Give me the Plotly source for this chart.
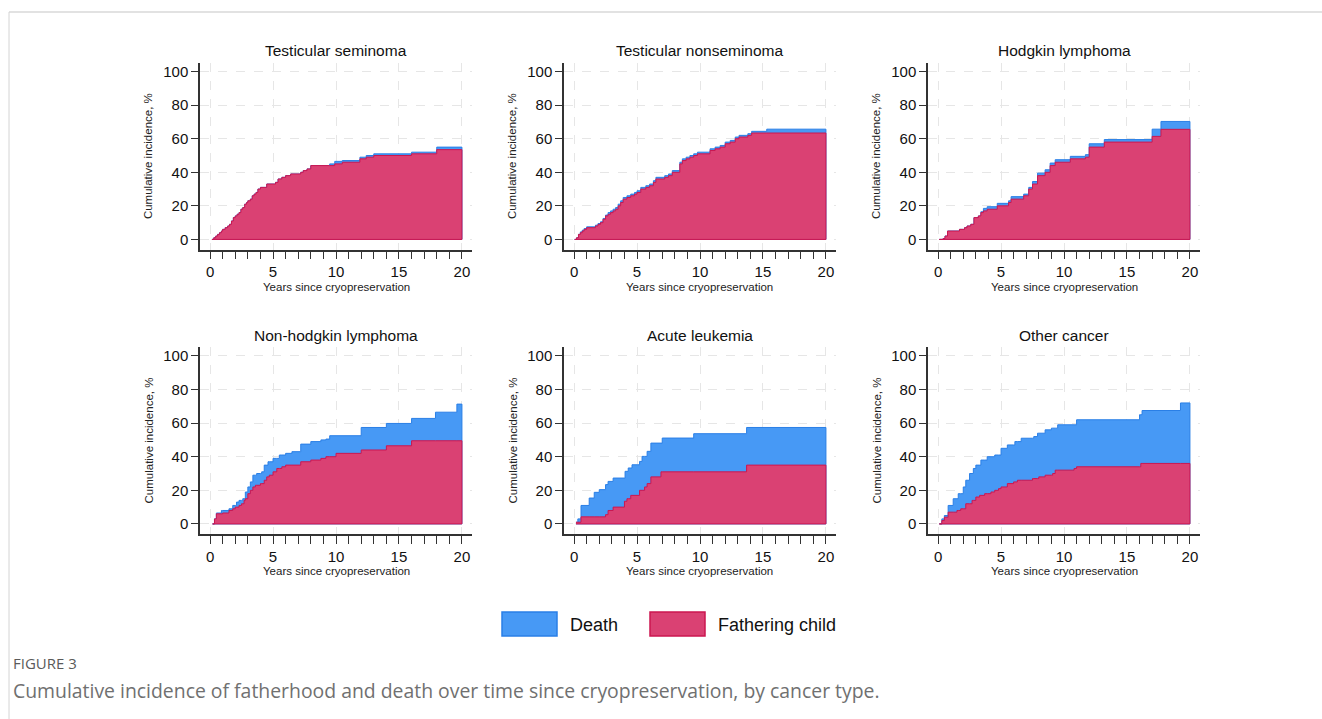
import plotly.graph_objects as go

# ---------------- data ----------------
panel_titles = ["Testicular seminoma", "Testicular nonseminoma", "Hodgkin lymphoma",
                "Non-hodgkin lymphoma", "Acute leukemia", "Other cancer"]
series_names = ["Death", "Fathering child"]
x_ticks = [0, 5, 10, 15, 20]
y_ticks = [0, 20, 40, 60, 80, 100]

seminoma_years = [0.15, 0.3, 0.45, 0.6, 0.75, 0.9, 1.0, 1.2, 1.4, 1.55, 1.7, 1.85, 2.0, 2.15, 2.3,
                  2.45, 2.6, 2.75, 2.9, 3.0, 3.2, 3.35, 3.5, 3.65, 3.8, 4.0, 4.5, 5.2, 5.4, 5.7,
                  6.0, 6.4, 7.2, 7.4, 7.7, 8.0, 9.5, 9.9, 10.5, 11.9, 12.4, 13.0, 16.0, 18.0, 20.0]
seminoma_fathering = [0, 1, 2, 3, 4, 5, 6, 7, 8, 9, 11, 13, 14, 15, 16,
                      18, 19, 21, 22, 23, 24, 26, 27, 28, 30, 31, 33, 34, 36, 37,
                      38, 39, 40, 41, 42, 44, 44, 45, 46, 48, 49, 50, 51, 53.5, 53.5]
seminoma_death = [0, 0, 0, 0, 0, 0, 0, 0, 0, 0, 0, 0, 0, 0, 0,
                  0, 0, 0, 0, 0, 0, 0, 0, 0, 0, 0, 0, 0, 0, 0,
                  0, 0, 0, 0, 0, 0, 1, 1.5, 1, 1, 1, 1, 1, 1.5, 1.5]

nonseminoma_years = [0.05, 0.2, 0.35, 0.5, 0.65, 0.8, 1.0, 1.7, 1.9, 2.1, 2.3, 2.5, 2.7, 2.9, 3.1,
                     3.3, 3.5, 3.7, 3.9, 4.2, 4.5, 4.8, 5.0, 5.3, 5.7, 6.0, 6.3, 6.5, 7.2, 7.5,
                     7.8, 8.4, 8.6, 8.9, 9.2, 9.5, 9.8, 10.8, 11.2, 11.6, 12.0, 12.4, 12.8, 13.1,
                     13.8, 14.1, 15.3, 20.0]
nonseminoma_fathering = [0, 1, 3, 4, 5, 6, 7, 8, 9, 10, 12, 14, 15, 16, 17,
                         18, 20, 22, 24, 25, 26, 27, 28, 30, 31, 32, 34, 36, 37, 38,
                         40, 45, 47, 48, 49, 50, 51, 53, 54, 55, 57, 58, 60, 61,
                         62, 63.4, 63.4, 63.4]
nonseminoma_death = [0, 0, 0, 0.5, 0.5, 0.5, 0.5, 0.5, 0.5, 0.5, 0.5, 0.5, 1, 1, 1,
                     1, 1, 1, 1, 1, 1, 1, 1, 1, 1, 1, 1, 1, 1, 1,
                     1, 1, 1, 1, 1, 1, 1, 1, 1, 1, 1, 1, 1, 1,
                     1, 1, 2.3, 2.3]

hodgkin_years = [0.1, 0.4, 0.55, 0.75, 1.7, 2.1, 2.3, 2.6, 2.85, 3.2, 3.4, 3.6, 3.9, 4.7, 5.6,
                 5.8, 6.8, 7.2, 7.5, 7.9, 8.5, 8.9, 9.3, 10.5, 11.7, 12.0, 13.2, 17.0, 17.7, 20.0]
hodgkin_fathering = [0, 0.5, 2, 5, 6, 7, 8, 9, 13, 14, 16, 17, 18, 20, 22,
                     24, 26, 30, 33, 38, 40, 44, 46, 48, 49, 55, 58, 61.4, 65.6, 65.6]
hodgkin_death = [0, 0, 0, 0, 0, 0, 0, 0, 0, 0, 0.5, 1.5, 1.5, 1.5, 1,
                 1.5, 1, 1, 1.5, 1.5, 1.5, 1.5, 1.5, 1.5, 1.5, 2, 1.5, 4.3, 4.7, 4.7]

nhl_years = [0.2, 0.35, 0.5, 0.9, 1.0, 1.5, 1.8, 2.0, 2.1, 2.3, 2.5, 2.6, 2.7, 2.8, 3.0,
             3.2, 3.4, 3.6, 3.7, 4.0, 4.1, 4.3, 4.5, 4.6, 4.7, 5.0, 5.3, 5.5, 5.7, 6.0,
             6.5, 7.2, 8.0, 8.8, 9.2, 9.5, 10.0, 12.0, 14.0, 16.0, 17.9, 19.6, 20.0]
nhl_fathering = [0, 3, 6, 6, 6.5, 8, 9, 10, 10, 11, 12, 12, 14, 15, 18,
                 20, 22, 23, 23, 24, 24, 26, 28, 28, 29, 31, 33, 33, 34, 35,
                 35, 37, 38, 39, 40, 40, 42, 44, 46.5, 49.5, 49.5, 49.5, 49.5]
nhl_death = [0, 0, 0.5, 2, 1.5, 1, 2, 1, 3, 3, 2, 3, 1, 4, 4,
             5, 7, 6, 7, 6, 7, 9, 7, 9, 8, 8, 6, 8, 7, 7,
             8, 10.5, 11, 11, 10.5, 12.5, 10.5, 13.4, 13.3, 13.3, 17, 21.8, 21.8]

leukemia_years = [0.15, 0.3, 0.55, 1.2, 1.6, 2.0, 2.5, 2.7, 3.1, 4.0, 4.05, 4.2, 4.3, 4.5, 4.6,
                  5.2, 5.4, 5.6, 5.8, 6.1, 6.9, 7.0, 9.5, 13.7, 20.0]
leukemia_fathering = [1, 1, 4.2, 4.2, 4.2, 4.2, 5.5, 8, 10, 13.5, 13.5, 15, 15, 17, 17,
                      20, 20, 22, 24, 28, 31, 31, 31, 35, 35]
leukemia_death = [0, 2, 6.8, 11.2, 14.6, 16.2, 17.9, 17.3, 17.3, 13.8, 17.8, 16.3, 18.3, 16.3, 18.2,
                  17.2, 20.2, 18.2, 19.2, 20.1, 17.1, 20.1, 22.7, 22.4, 22.4]

other_years = [0.1, 0.3, 0.5, 0.8, 1.2, 1.5, 1.6, 1.8, 2.0, 2.2, 2.5, 2.7, 2.8, 3.0, 3.3,
               3.4, 3.7, 3.9, 4.2, 4.5, 4.8, 5.0, 5.5, 6.0, 6.1, 6.3, 6.6, 7.5, 7.6, 7.9,
               8.0, 8.5, 9.0, 9.1, 9.3, 9.5, 10.8, 11.0, 15.8, 16.0, 16.1, 16.2, 19.25, 20.0]
other_fathering = [0, 2, 4, 7, 7, 8, 8, 9, 9, 12, 12, 14, 14, 16, 17,
                   17, 18, 18, 19, 20, 21, 22, 24, 25, 25, 26, 26, 27, 27, 27,
                   28, 29, 29, 30, 32, 32, 33, 34, 34, 34, 36, 36, 36, 36]
other_death = [0, 1, 1, 4, 8, 7, 10, 9, 13, 14, 18, 16, 19, 19, 18,
               21, 20, 22, 21, 21, 20, 23, 23, 22, 24, 23, 25, 24, 25, 27,
               26, 27, 28, 27, 25, 27, 26, 28, 28, 31, 29, 31.5, 36, 36]

panels = [
    (seminoma_years, seminoma_fathering, seminoma_death),
    (nonseminoma_years, nonseminoma_fathering, nonseminoma_death),
    (hodgkin_years, hodgkin_fathering, hodgkin_death),
    (nhl_years, nhl_fathering, nhl_death),
    (leukemia_years, leukemia_fathering, leukemia_death),
    (other_years, other_fathering, other_death),
]

# ---------------- styling / layout ----------------
W, H = 1322, 719
BLUE_FILL, BLUE_LINE = "#4799F5", "#2A7FE6"
RED_FILL, RED_LINE = "#DA4173", "#CC1650"
FONT = "Liberation Sans, Arial, sans-serif"
CAP_FONT = "Open Sans, sans-serif"

col_px = [(200, 472), (564, 836), (928, 1200)]
row_px = [(62.7, 249.5), (347, 534)]
title_py = [51, 335]
xtitle_py = [286.5, 570.5]


def px_x(p):
    return p / W


def px_y(p):
    return 1 - p / H


fig = go.Figure()
layout_axes = {}
annotations = []

for i, (years, fath, death) in enumerate(panels):
    r, c = divmod(i, 3)
    n = i + 1
    xa = "x" if n == 1 else f"x{n}"
    ya = "y" if n == 1 else f"y{n}"
    top = [f + d for f, d in zip(fath, death)]
    xs = list(years) + [years[-1], years[0]]
    # Death stacked on top of fathering
    fig.add_trace(go.Scatter(
        x=xs, y=top + [0, 0], mode="lines", fill="toself", fillcolor=BLUE_FILL,
        line=dict(color=BLUE_LINE, width=1, shape="hv"), name=series_names[0],
        showlegend=False, xaxis=xa, yaxis=ya, hoverinfo="skip"))
    fig.add_trace(go.Scatter(
        x=xs, y=list(fath) + [0, 0], mode="lines", fill="toself", fillcolor=RED_FILL,
        line=dict(color=RED_LINE, width=1, shape="hv"), name=series_names[1],
        showlegend=False, xaxis=xa, yaxis=ya, hoverinfo="skip"))

    x0, x1 = col_px[c]
    yt, yb = row_px[r]
    axis_common = dict(showline=True, linecolor="#333333", linewidth=1.5,
                       showgrid=True, gridcolor="#e6e6e6", griddash="dash", gridwidth=1,
                       zeroline=False, ticks="outside", tickcolor="#333333", tickwidth=1.2,
                       tickfont=dict(family=FONT, size=15, color="#111111"))
    layout_axes["xaxis" if n == 1 else f"xaxis{n}"] = dict(
        axis_common, domain=[px_x(x0), px_x(x1)], range=[-0.8, 20.8],
        tickvals=x_ticks, ticklen=8, anchor=ya,
        minor=dict(dtick=1, tick0=0, ticks="outside", ticklen=8, tickcolor="#333333",
                   tickwidth=1.2, showgrid=False))
    layout_axes["yaxis" if n == 1 else f"yaxis{n}"] = dict(
        axis_common, domain=[px_y(yb), px_y(yt)], range=[-6, 105.3],
        tickvals=y_ticks, ticklen=7, anchor=xa)

    cx = (x0 + x1) / 2
    annotations.append(dict(text=panel_titles[i], x=px_x(cx), y=px_y(title_py[r]),
                            xref="paper", yref="paper", showarrow=False, xanchor="center",
                            yanchor="middle", font=dict(family=FONT, size=15.5, color="#111")))
    annotations.append(dict(text="Years since cryopreservation", x=px_x(cx), y=px_y(xtitle_py[r]),
                            xref="paper", yref="paper", showarrow=False, xanchor="center",
                            yanchor="middle", font=dict(family=FONT, size=11.5, color="#222")))
    annotations.append(dict(text="Cumulative incidence, %", x=px_x(x0 - 52), y=px_y((yt + yb) / 2),
                            xref="paper", yref="paper", showarrow=False, xanchor="center",
                            yanchor="middle", textangle=-90,
                            font=dict(family=FONT, size=11.5, color="#222")))

# legend (drawn manually to match the large swatches)
shapes = [
    dict(type="rect", xref="paper", yref="paper", x0=px_x(502), x1=px_x(557),
         y0=px_y(636), y1=px_y(612), fillcolor=BLUE_FILL, line=dict(color=BLUE_LINE, width=1.5)),
    dict(type="rect", xref="paper", yref="paper", x0=px_x(650), x1=px_x(705),
         y0=px_y(636), y1=px_y(612), fillcolor=RED_FILL, line=dict(color=RED_LINE, width=1.5)),
    dict(type="line", xref="paper", yref="paper", x0=px_x(9), x1=1, y0=px_y(12), y1=px_y(12),
         line=dict(color="#e2e2e2", width=2)),
    dict(type="line", xref="paper", yref="paper", x0=px_x(9), x1=px_x(9), y0=0, y1=px_y(12),
         line=dict(color="#d4d4d4", width=1)),
]
annotations.append(dict(text=series_names[0], x=px_x(568), y=px_y(625), xref="paper", yref="paper",
                        showarrow=False, xanchor="left", yanchor="middle",
                        font=dict(family=FONT, size=18, color="#111")))
annotations.append(dict(text=series_names[1], x=px_x(716), y=px_y(625), xref="paper", yref="paper",
                        showarrow=False, xanchor="left", yanchor="middle",
                        font=dict(family=FONT, size=18, color="#111")))
annotations.append(dict(text="FIGURE 3", x=px_x(11), y=px_y(663), xref="paper", yref="paper",
                        showarrow=False, xanchor="left", yanchor="middle",
                        font=dict(family=CAP_FONT, size=15, color="#5a5a5a")))
annotations.append(dict(text="Cumulative incidence of fatherhood and death over time since "
                             "cryopreservation, by cancer type.",
                        x=px_x(11), y=px_y(690), xref="paper", yref="paper",
                        showarrow=False, xanchor="left", yanchor="middle",
                        font=dict(family=CAP_FONT, size=19.4, color="#707070")))

fig.update_layout(width=W, height=H, margin=dict(l=0, r=0, t=0, b=0),
                  paper_bgcolor="white", plot_bgcolor="white", showlegend=False,
                  annotations=annotations, shapes=shapes, **layout_axes)

fig.write_html("out.html", config={"displayModeBar": False},
               post_script="document.body.style.margin='0px';")
